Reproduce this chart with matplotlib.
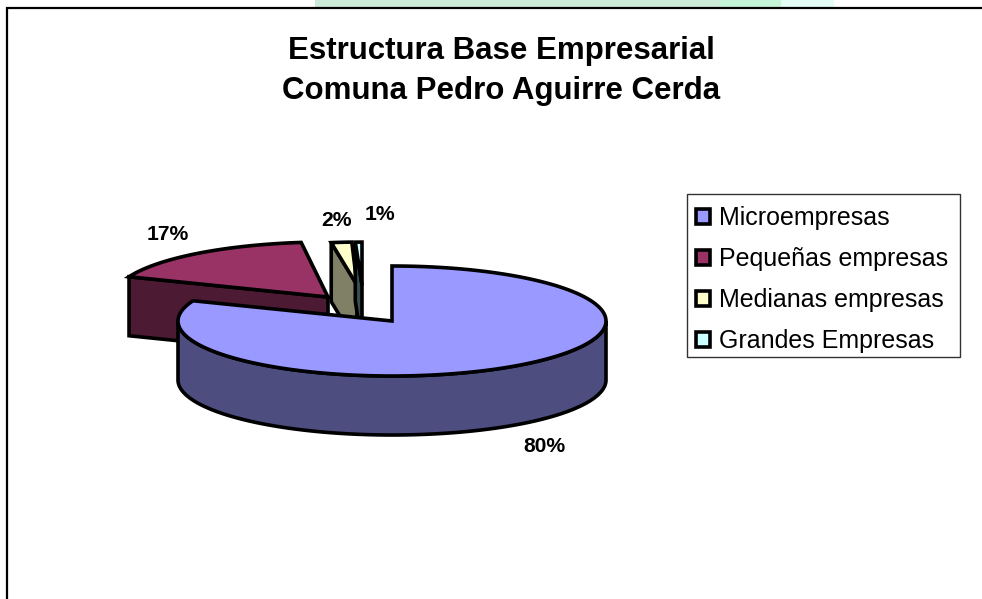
import numpy as np
import matplotlib
matplotlib.use("Agg")
import matplotlib.pyplot as plt
from matplotlib.patches import Polygon, Rectangle, Patch

# ---- data ----
categories = ["Microempresas", "Pequeñas empresas", "Medianas empresas", "Grandes Empresas"]
shares = [80, 17, 2, 1]
share_labels = ["80%", "17%", "2%", "1%"]
title_lines = ["Estructura Base Empresarial", "Comuna Pedro Aguirre Cerda"]

# ---- style ----
top_colors = ["#9999FF", "#993366", "#FFFFCC", "#CCFFFF"]
side_colors = ["#4D4D80", "#4D1A33", "#808066", "#3A5050"]
apex = [(392, 321), (328, 297), (357, 285), (362, 285)]
radius_scale = [(1, 1), (1, 1), (0.77, 0.78), (0.5, 0.78)]
angle_shift = [(0, 3.6), (3.6, 3.6), (1.8, 1.8), (0, 0)]
label_pos = [(544, 446), (168, 235), (337, 221), (380, 214)]
RX, RY, DEPTH = 214, 55, 59
LW = 2.6

plt.rcParams["font.family"] = ["Liberation Sans", "DejaVu Sans"]
fig = plt.figure(figsize=(9.82, 5.99), dpi=100, facecolor="white")
ax = fig.add_axes([0, 0, 1, 1])
ax.set_xlim(0, 982)
ax.set_ylim(599, 0)
ax.axis("off")

# background strips behind the chart frame
for x0, x1, c in [(315, 720, "#CDE9D8"), (720, 781, "#C4F5D8"), (781, 834, "#E4FCF6")]:
    ax.add_patch(Rectangle((x0, 0), x1 - x0, 8, fc=c, ec="none", zorder=0))
ax.add_patch(Rectangle((7, 8), 1000, 700, fc="white", ec="black", lw=1.6, zorder=1))


def rim(c, rx, ry, t0, t1, n=160):
    t = np.radians(np.linspace(t0, t1, n))
    return np.column_stack([c[0] + rx * np.sin(t), c[1] - ry * np.cos(t)])


def add(pts, fc, z):
    ax.add_patch(Polygon(pts, closed=True, fc=fc, ec="black", lw=LW, joinstyle="miter", zorder=z))


edges = np.cumsum([0] + shares) / sum(shares) * 360.0
down = np.array([0, DEPTH])
order = [1, 2, 3, 0]
for z, i in enumerate(order):
    z0 = 2 + 2 * z
    t0, t1 = edges[i] + angle_shift[i][0], edges[i + 1] + angle_shift[i][1]
    rx, ry = RX * radius_scale[i][0], RY * radius_scale[i][1]
    c = np.array(apex[i], float)
    arc = rim(c, rx, ry, t0, t1)
    if i == 0:
        front = rim(c, rx, ry, 90, 270)
        add(np.vstack([front, (front + down)[::-1]]), side_colors[i], z0)
    else:
        first = arc[0]
        add(np.array([first, c, c + down, first + down]), side_colors[i], z0)
    add(np.vstack([c, arc]), top_colors[i], z0 + 1)

for txt, (x, y) in zip(share_labels, label_pos):
    ax.text(x, y, txt, ha="center", va="center", fontsize=15.2, fontweight="bold", color="black", zorder=20)

for txt, y in zip(title_lines, [51, 91]):
    ax.text(501, y, txt, ha="center", va="center", fontsize=22.5, fontweight="bold", color="black", zorder=20)

# legend frame drawn separately so the box can be sized independently of the rows
ax.add_patch(Rectangle((687, 194), 273, 163, fc="white", ec="#333333", lw=1.0, zorder=19))
handles = [Patch(fc=c, ec="black", lw=LW) for c in top_colors]
leg = ax.legend(handles, categories, loc="upper left", bbox_to_anchor=(687.5, 197),
                bbox_transform=ax.transData, frameon=False, fontsize=18.0,
                handlelength=0.55, handleheight=0.55, handletextpad=0.36,
                labelspacing=0.68, borderpad=0.36, borderaxespad=0)
leg.set_zorder(20)

fig.savefig("out.png", dpi=100)
